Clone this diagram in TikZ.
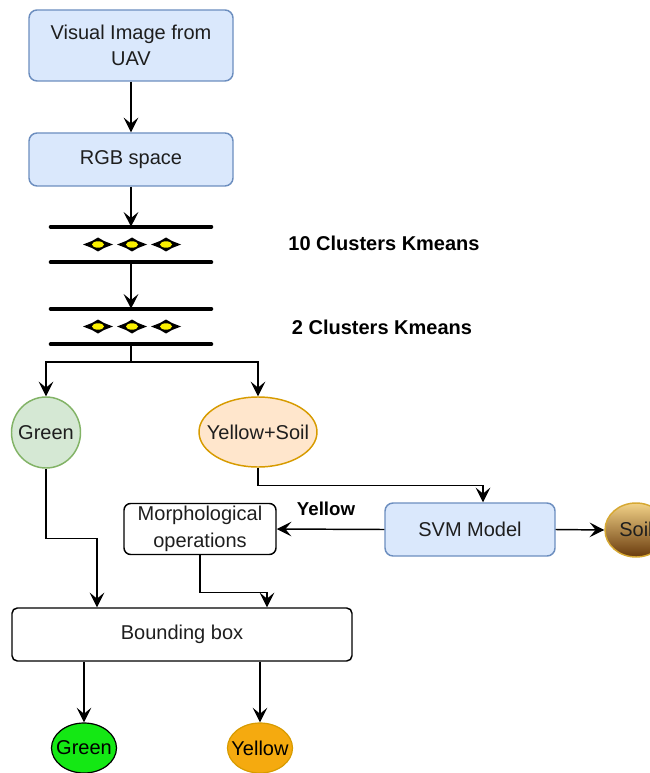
\documentclass[tikz,border=0pt]{standalone}
\usepackage{fontspec}
\setmainfont{Liberation Sans}
\usetikzlibrary{arrows.meta,shapes.geometric,calc}
\definecolor{bluefill}{HTML}{DAE8FC}
\definecolor{blueline}{HTML}{6C8EBF}
\definecolor{greenfill}{HTML}{D5E8D4}
\definecolor{greenline}{HTML}{82B366}
\definecolor{orfill}{HTML}{FFE6CC}
\definecolor{orline}{HTML}{D79B00}
\definecolor{brightgreen}{RGB}{20,232,20}
\definecolor{ambfill}{RGB}{245,170,15}
\definecolor{soiltop}{RGB}{242,210,135}
\definecolor{soilbot}{RGB}{105,58,12}
\definecolor{soilline}{RGB}{214,168,50}
\definecolor{dyellow}{RGB}{250,240,0}
\definecolor{txtcol}{RGB}{30,30,30}
\begin{document}
\begin{tikzpicture}[x=0.75pt,y=-0.75pt,
  txt/.style={text=txtcol, font=\fontsize{15}{20}\selectfont, align=center, inner sep=0pt},
  bluebox/.style={txt, draw=blueline, fill=bluefill, line width=1.1pt, rounded corners=6pt},
  whitebox/.style={txt, draw=black, fill=white, line width=1.1pt, rounded corners=5pt},
  ell/.style={ellipse, inner sep=0pt, line width=1.1pt},
  kbox/.style={rectangle, draw=none, inner sep=0pt, minimum width=120pt, minimum height=26.25pt},
  kline/.style={line width=3pt, line cap=round},
  lbl/.style={text=black, font=\fontsize{15}{18}\selectfont\bfseries, inner sep=0pt},
  conn/.style={line width=1.1pt, draw=black},
  arr/.style={conn, -{Stealth[length=11pt,width=11pt,inset=4.5pt]}}
]
\useasboundingbox (0,0) rectangle (649,773);

% boxes
\node[bluebox, minimum width=153pt, minimum height=53.25pt] (img) at (131,45.5) {Visual Image from\\UAV};
\node[bluebox, minimum width=153pt, minimum height=39.75pt] (rgb) at (131,159.5) {RGB space};

% kmeans symbols
\node[kbox] (km1) at (131,244.5) {};
\node[kbox] (km2) at (131,326.5) {};
\foreach \k in {km1,km2}{
  \draw[kline] (\k.north west) -- (\k.north east);
  \draw[kline] (\k.south west) -- (\k.south east);
  \foreach \dx in {-33,1,35}{
    \path ($(\k.center)+(\dx,0)$) coordinate (d);
    \fill[black] (d) +(15,0) -- +(6,3.5) -- +(0,7) -- +(-6,3.5) -- +(-15,0) -- +(-6,-3.5) -- +(0,-7) -- +(6,-3.5) -- cycle;
    \fill[dyellow] (d) ellipse [x radius=4.5pt, y radius=2.4pt];
  }
}
\node[lbl] (l10) at (384,243) {10 Clusters Kmeans};
\node[lbl] (l2) at (382,327) {2 Clusters Kmeans};

% ellipses
\node[ell, draw=greenline, fill=greenfill, minimum width=51.75pt, minimum height=53.25pt] (green1) at (46,432.5) {};
\node[txt] (green1t) at (green1) {Green};
\node[ell, draw=orline, fill=orfill, minimum width=88.5pt, minimum height=52.5pt] (ys) at (258,432) {};
\node[txt] (yst) at (ys) {Yellow+Soil};

\node[bluebox, minimum width=127.5pt, minimum height=39.75pt] (svm) at (470,529.5) {SVM Model};
\node[whitebox, minimum width=114pt, minimum height=38.25pt] (morph) at (200,529) {Morphological\\operations};
\node[ell, draw=soilline, top color=soiltop, bottom color=soilbot, minimum width=46.5pt, minimum height=40.5pt] (soil) at (636,530) {};
\node[txt] (soilt) at (636,529) {Soil};
\node[lbl, font=\fontsize{14}{16}\selectfont\bfseries] (ylab) at (326,509) {Yellow};

\node[whitebox, minimum width=255pt, minimum height=39.75pt, rounded corners=4pt] (bbox) at (182,634.5) {Bounding box};

\node[ell, draw=black, line width=0.9pt, fill=brightgreen, minimum width=48.75pt, minimum height=37.5pt] (green2) at (84,748) {};
\node[txt, text=black] (green2t) at (green2) {Green};
\node[ell, draw=orline, line width=0.9pt, fill=ambfill, minimum width=48.75pt, minimum height=37.5pt] (yellow2) at (260,748) {};
\node[txt, text=black] (yellow2t) at (yellow2) {Yellow};

% connectors
\draw[arr] (img.south) -- (rgb.north);
\draw[arr] (rgb.south) -- (km1.north);
\draw[arr] (km1.south) -- (km2.north);
\coordinate (split) at (131,362);
\draw[conn] (km2.south) -- (split);
\draw[arr] (split) -| (green1.north);
\draw[arr] (split) -| (ys.north);
\draw[arr] (ys.south) -- ++(0,18) -| ([xshift=9.75pt]svm.north);
\draw[arr] (svm.west) -- (morph.east);
\draw[arr] (svm.east) -- (soil.west);
\draw[arr] (green1.south) -- ++(0,70) -| ([xshift=-63.75pt]bbox.north);
\draw[arr] (morph.south) -- ++(0,37) -| ([xshift=63.75pt]bbox.north);
\draw[arr] (bbox.south -| green2.north) -- (green2.north);
\draw[arr] (bbox.south -| yellow2.north) -- (yellow2.north);
\end{tikzpicture}
\end{document}
